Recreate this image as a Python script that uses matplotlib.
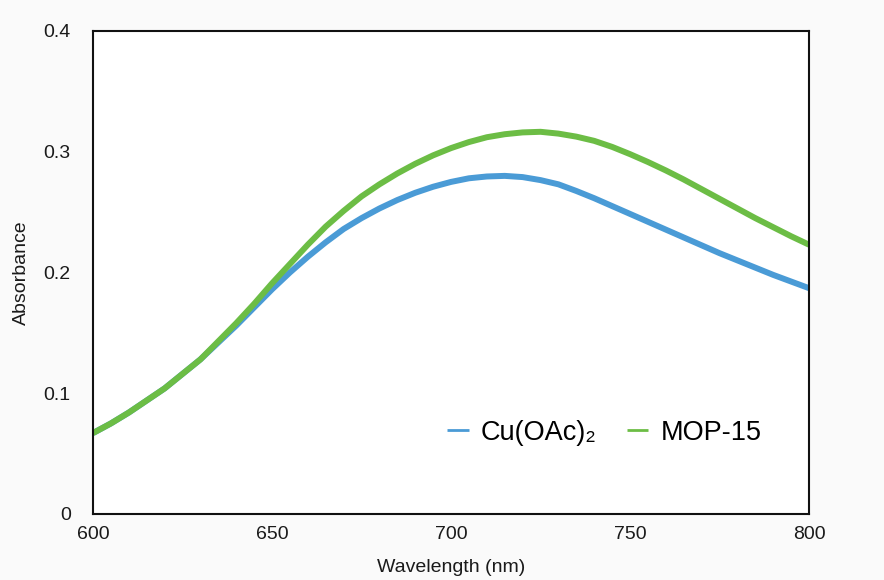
import matplotlib

matplotlib.use("Agg")
import matplotlib.pyplot as plt

# values (nm, absorbance), every 5 nm
wavelength = [600, 605, 610, 615, 620, 625, 630, 635, 640, 645, 650, 655, 660, 665, 670,
              675, 680, 685, 690, 695, 700, 705, 710, 715, 720, 725, 730, 735, 740, 745,
              750, 755, 760, 765, 770, 775, 780, 785, 790, 795, 800]
cu_oac2 = [0.067, 0.075, 0.084, 0.094, 0.104, 0.116, 0.128, 0.142, 0.156, 0.171, 0.186,
           0.200, 0.213, 0.225, 0.236, 0.245, 0.253, 0.260, 0.266, 0.271, 0.275, 0.278,
           0.2795, 0.280, 0.279, 0.2765, 0.273, 0.2675, 0.2615, 0.255, 0.2485, 0.242,
           0.2355, 0.229, 0.2225, 0.216, 0.210, 0.204, 0.198, 0.1925, 0.187]
mop15 = [0.067, 0.075, 0.084, 0.094, 0.104, 0.116, 0.128, 0.143, 0.158, 0.174, 0.191,
         0.207, 0.223, 0.238, 0.251, 0.263, 0.273, 0.282, 0.290, 0.297, 0.303, 0.308,
         0.312, 0.3145, 0.316, 0.3165, 0.315, 0.3125, 0.309, 0.304, 0.298, 0.2915,
         0.2845, 0.277, 0.269, 0.261, 0.253, 0.245, 0.2375, 0.230, 0.223]
series_names = ["Cu(OAc)\u2082", "MOP-15"]
x_ticks = [600, 650, 700, 750, 800]
y_ticks = [0, 0.1, 0.2, 0.3, 0.4]
y_tick_labels = ["0", "0.1", "0.2", "0.3", "0.4"]

COLORS = {"blue": "#4a9bd6", "green": "#6cbd45", "text": "#1a1a1a"}

plt.rcParams.update({
    "font.family": ["Liberation Sans", "DejaVu Sans"],
    "figure.facecolor": "#fafafa",
    "axes.facecolor": "white",
})

fig = plt.figure(figsize=(8.84, 5.80), dpi=100)
ax = fig.add_axes([0.1052, 0.1138, 0.810, 0.8328])

ax.plot(wavelength, cu_oac2, color=COLORS["blue"], linewidth=4.3, label=series_names[0],
        solid_capstyle="butt", solid_joinstyle="round")
ax.plot(wavelength, mop15, color=COLORS["green"], linewidth=4.3, label=series_names[1],
        solid_capstyle="butt", solid_joinstyle="round")

ax.set_xlim(600, 800)
ax.set_ylim(0, 0.4)
ax.set_xticks(x_ticks, [str(v) for v in x_ticks])
ax.set_yticks(y_ticks, y_tick_labels)
ax.tick_params(length=0, labelsize=14, colors=COLORS["text"])
ax.tick_params(axis="x", pad=9)
ax.tick_params(axis="y", pad=16)
for spine in ax.spines.values():
    spine.set_linewidth(1.5)
    spine.set_color("#111111")

ax.set_xlabel("Wavelength (nm)", fontsize=14, color=COLORS["text"], labelpad=11)
ax.set_ylabel("Absorbance", fontsize=14, color=COLORS["text"], labelpad=10)

leg = ax.legend(loc="center", bbox_to_anchor=(0.714, 0.168), ncols=2, frameon=False,
                fontsize=19.5, handlelength=0.8, handletextpad=0.45, columnspacing=1.1)
for line in leg.get_lines():
    line.set_linewidth(2)

fig.savefig("out.png", dpi=100, facecolor=fig.get_facecolor())
